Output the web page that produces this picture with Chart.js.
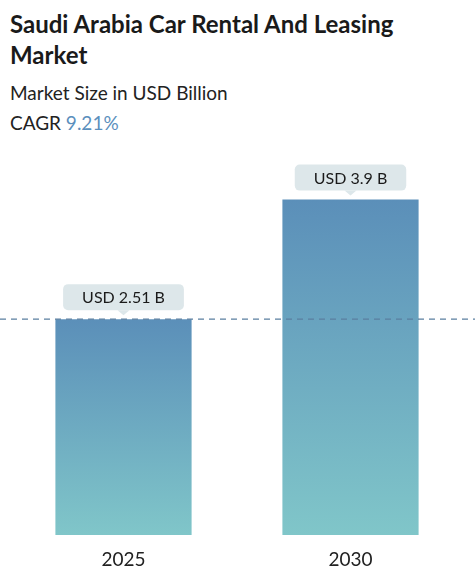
<!DOCTYPE html>
<html><head><meta charset="utf-8">
<script src="https://cdn.jsdelivr.net/npm/chart.js@4"></script>
<style>
body{margin:0;width:475px;height:570px;background:#fff;font-family:Lato,"Noto Sans",sans-serif;overflow:hidden;position:relative}
#t{position:absolute;left:10px;top:8px;font-size:24px;font-weight:bold;color:#1a1a1a;line-height:31px;width:430px}
#s{position:absolute;left:10px;top:81px;font-size:19px;color:#222}
#c{position:absolute;left:10px;top:111px;font-size:19px;color:#222}
#c span{color:#5b8fbd}
canvas{position:absolute;left:0;top:0}
</style></head><body>
<div id="t">Saudi Arabia Car Rental And Leasing Market</div>
<div id="s">Market Size in USD Billion</div>
<div id="c">CAGR <span>9.21%</span></div>
<canvas id="ch" width="475" height="570"></canvas>
<script>
const categories=["2025","2030"];
const values=[2.51,3.9];
const labels=["USD 2.51 B","USD 3.9 B"];
const ctx=document.getElementById('ch');
const extras={id:'extras',afterDatasetsDraw(ch){
 const c=ch.ctx,meta=ch.getDatasetMeta(0),y0=meta.data[0].y;
 c.save();c.setLineDash([6,5]);c.strokeStyle='#5a7fa0';c.lineWidth=1.2;
 c.beginPath();c.moveTo(0,y0);c.lineTo(475,y0);c.stroke();c.setLineDash([]);
 meta.data.forEach((b,i)=>{
  c.font='16px Lato, "Noto Sans", sans-serif';
  const w=c.measureText(labels[i]).width+38,h=26,x=b.x-w/2,yb=b.y-9,y=yb-h;
  c.fillStyle='#dde7ea';c.beginPath();c.roundRect(x,y,w,h,5);c.fill();
  c.beginPath();c.moveTo(b.x-6,yb);c.lineTo(b.x,yb+5);c.lineTo(b.x+6,yb);c.fill();
  c.fillStyle='#1a1a1a';c.textAlign='center';c.textBaseline='middle';c.fillText(labels[i],b.x,y+h/2+1);
 });c.restore();}};
new Chart(ctx,{type:'bar',data:{labels:categories,datasets:[{data:values,
 backgroundColor(cx){const a=cx.chart.chartArea,ys=cx.chart.scales.y;if(!a||!ys)return '#6fa8c0';const top=ys.getPixelForValue(values[cx.dataIndex]);const g=cx.chart.ctx.createLinearGradient(0,top,0,a.bottom);g.addColorStop(0,'#5b8fb9');g.addColorStop(1,'#80c6c9');return g;},
 barPercentage:0.6,categoryPercentage:1}]},
 options:{responsive:false,animation:false,layout:{padding:{left:10,right:11,top:105,bottom:0}},
 plugins:{legend:{display:false},tooltip:{enabled:false}},
 scales:{y:{display:false,min:0,max:5},x:{grid:{display:false},border:{display:false},
  ticks:{color:'#222',font:{size:19,family:'Lato, "Noto Sans", sans-serif'},padding:5},
  afterFit(s){s.height=35;}}}},plugins:[extras]});
</script></body></html>
